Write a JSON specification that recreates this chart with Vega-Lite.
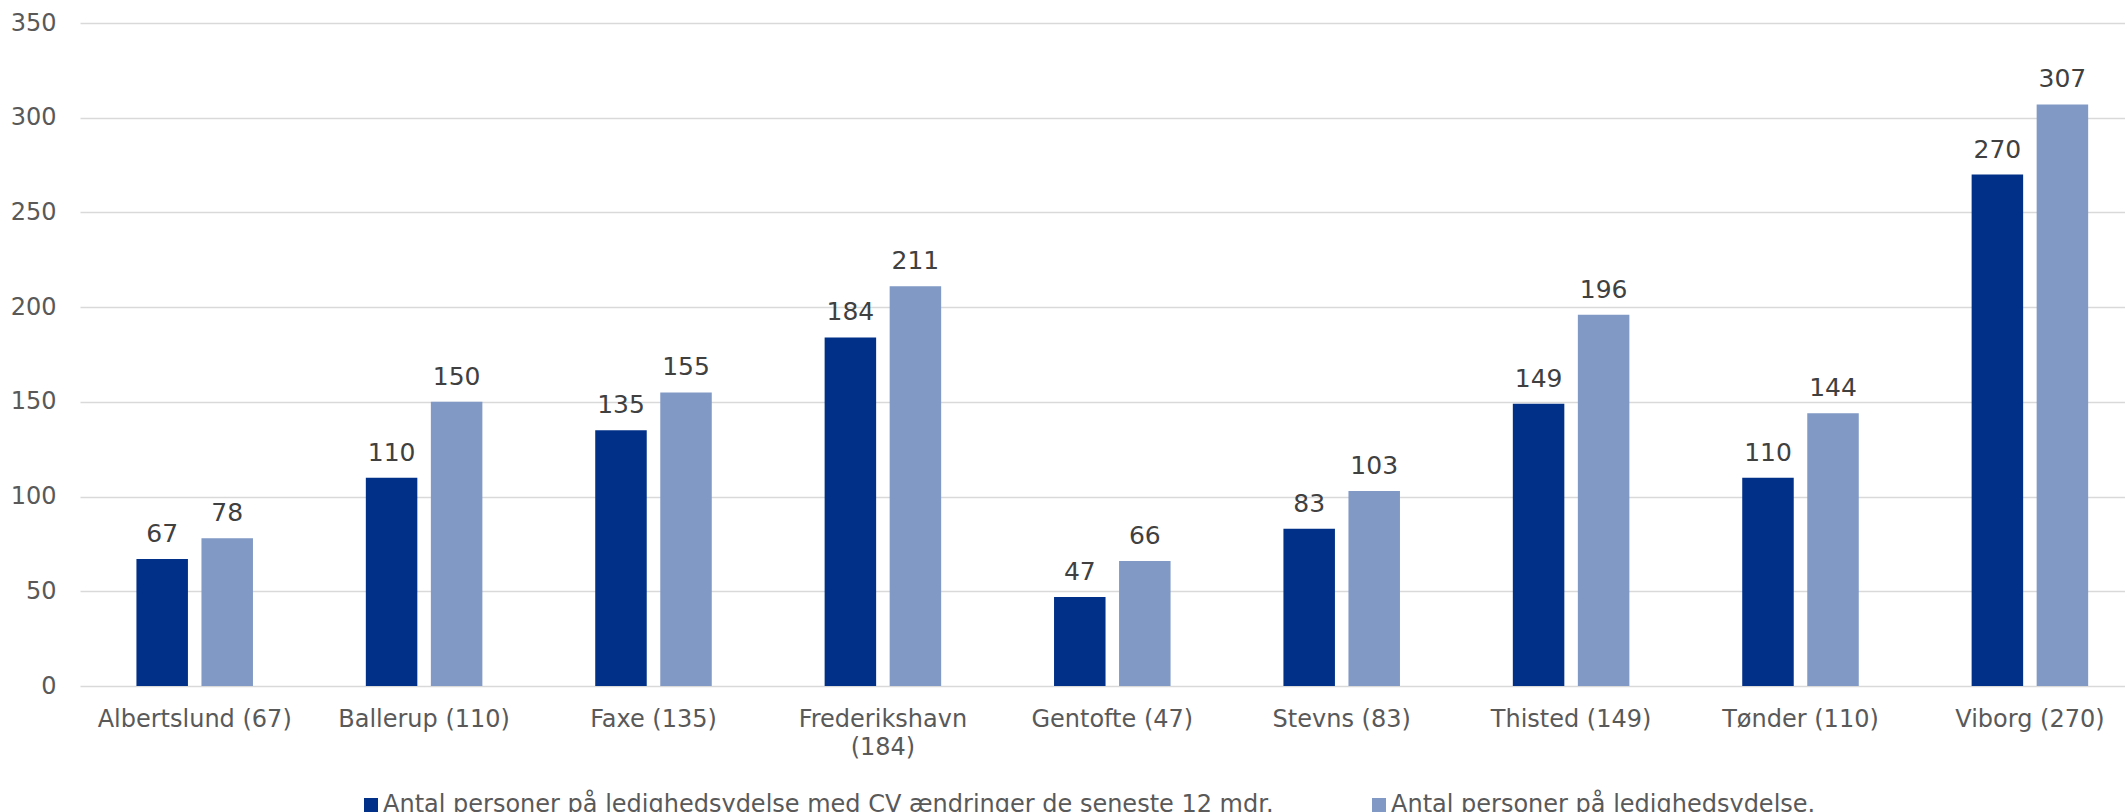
{
  "$schema": "https://vega.github.io/schema/vega-lite/v6.json",
  "width": 2045,
  "height": 663,
  "autosize": {"type": "none"},
  "padding": {"left": 80, "top": 23, "right": 0, "bottom": 126},
  "background": "white",
  "config": {"view": {"stroke": null}, "font": "DejaVu Sans"},
  "data": {"values": [
    {"kommune": "Albertslund (67)", "serie": "Antal personer på ledighedsydelse med CV ændringer de seneste 12 mdr.", "antal": 67},
    {"kommune": "Albertslund (67)", "serie": "Antal personer på ledighedsydelse.", "antal": 78},
    {"kommune": "Ballerup (110)", "serie": "Antal personer på ledighedsydelse med CV ændringer de seneste 12 mdr.", "antal": 110},
    {"kommune": "Ballerup (110)", "serie": "Antal personer på ledighedsydelse.", "antal": 150},
    {"kommune": "Faxe (135)", "serie": "Antal personer på ledighedsydelse med CV ændringer de seneste 12 mdr.", "antal": 135},
    {"kommune": "Faxe (135)", "serie": "Antal personer på ledighedsydelse.", "antal": 155},
    {"kommune": "Frederikshavn (184)", "serie": "Antal personer på ledighedsydelse med CV ændringer de seneste 12 mdr.", "antal": 184},
    {"kommune": "Frederikshavn (184)", "serie": "Antal personer på ledighedsydelse.", "antal": 211},
    {"kommune": "Gentofte (47)", "serie": "Antal personer på ledighedsydelse med CV ændringer de seneste 12 mdr.", "antal": 47},
    {"kommune": "Gentofte (47)", "serie": "Antal personer på ledighedsydelse.", "antal": 66},
    {"kommune": "Stevns (83)", "serie": "Antal personer på ledighedsydelse med CV ændringer de seneste 12 mdr.", "antal": 83},
    {"kommune": "Stevns (83)", "serie": "Antal personer på ledighedsydelse.", "antal": 103},
    {"kommune": "Thisted (149)", "serie": "Antal personer på ledighedsydelse med CV ændringer de seneste 12 mdr.", "antal": 149},
    {"kommune": "Thisted (149)", "serie": "Antal personer på ledighedsydelse.", "antal": 196},
    {"kommune": "Tønder (110)", "serie": "Antal personer på ledighedsydelse med CV ændringer de seneste 12 mdr.", "antal": 110},
    {"kommune": "Tønder (110)", "serie": "Antal personer på ledighedsydelse.", "antal": 144},
    {"kommune": "Viborg (270)", "serie": "Antal personer på ledighedsydelse med CV ændringer de seneste 12 mdr.", "antal": 270},
    {"kommune": "Viborg (270)", "serie": "Antal personer på ledighedsydelse.", "antal": 307}
  ]},
  "encoding": {
    "x": {
      "field": "kommune", "type": "nominal", "sort": null,
      "scale": {"range": [0, 2064.6], "paddingInner": 0.492, "paddingOuter": 0.246},
      "axis": {
        "title": null, "domain": false, "ticks": false, "labelAngle": 0,
        "labelFontSize": 24, "labelColor": "#595959", "labelPadding": 21,
        "labelLineHeight": 28, "labelLimit": 400,
        "labelExpr": "datum.label == 'Frederikshavn (184)' ? ['Frederikshavn', '(184)'] : datum.label"
      }
    },
    "xOffset": {
      "field": "serie", "type": "nominal",
      "sort": ["Antal personer på ledighedsydelse med CV ændringer de seneste 12 mdr.", "Antal personer på ledighedsydelse."],
      "scale": {"paddingInner": 0.208, "paddingOuter": 0}
    },
    "y": {
      "field": "antal", "type": "quantitative",
      "scale": {"domain": [0, 350], "nice": false},
      "axis": {
        "title": null, "domain": false, "ticks": false,
        "values": [0, 50, 100, 150, 200, 250, 300, 350],
        "labelFontSize": 24, "labelColor": "#595959", "labelPadding": 24,
        "gridColor": "#d9d9d9", "gridWidth": 1.5
      }
    }
  },
  "layer": [
    {
      "mark": {"type": "bar"},
      "encoding": {
        "color": {
          "field": "serie", "type": "nominal",
          "sort": ["Antal personer på ledighedsydelse med CV ændringer de seneste 12 mdr.", "Antal personer på ledighedsydelse."],
          "scale": {
            "domain": ["Antal personer på ledighedsydelse med CV ændringer de seneste 12 mdr.", "Antal personer på ledighedsydelse."],
            "range": ["#003087", "#8199C5"]
          },
          "legend": {
            "title": null, "orient": "none", "legendX": 279, "legendY": 770,
            "direction": "horizontal", "columns": 2, "columnPadding": 93,
            "symbolType": "square", "symbolSize": 196, "symbolStrokeWidth": 0,
            "labelFontSize": 24, "labelColor": "#595959", "labelOffset": 0, "labelLimit": 2000
          }
        }
      }
    },
    {
      "mark": {"type": "text", "baseline": "alphabetic", "dy": -17, "fontSize": 25, "color": "#404040"},
      "encoding": {"text": {"field": "antal", "type": "quantitative"}}
    }
  ]
}
